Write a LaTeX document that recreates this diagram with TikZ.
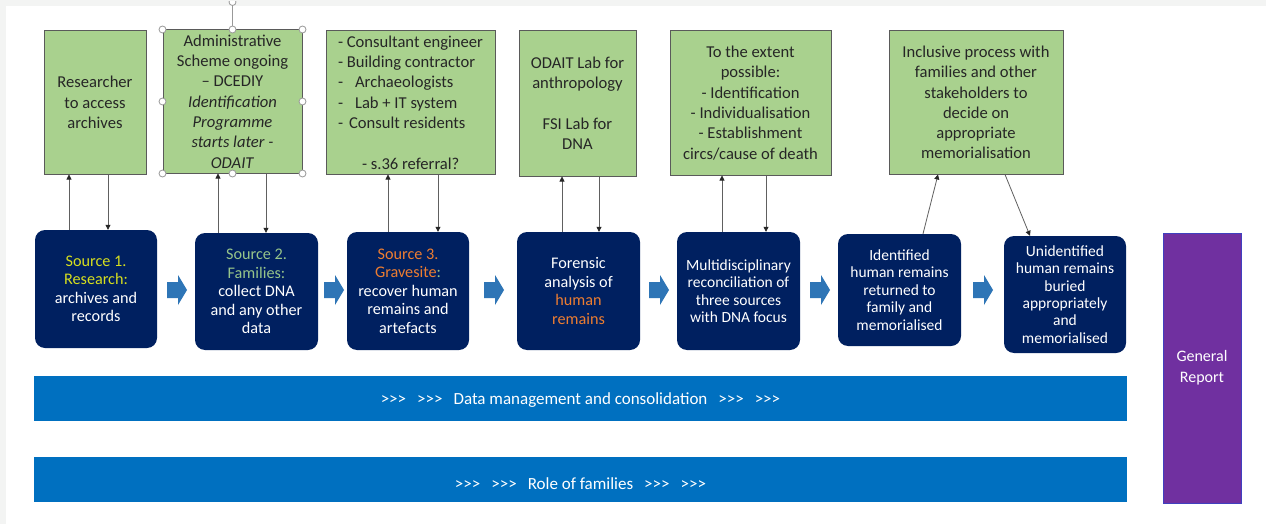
\documentclass[tikz,border=0pt]{standalone}
\usepackage{fontspec}
\setmainfont{Carlito}
\usetikzlibrary{arrows.meta}
\definecolor{gfill}{HTML}{A9D18E}
\definecolor{gdraw}{HTML}{5A5A5A}
\definecolor{navy}{HTML}{002060}
\definecolor{barblue}{HTML}{0070C0}
\definecolor{arrblue}{HTML}{2E75B6}
\definecolor{purp}{HTML}{7030A0}
\definecolor{ylw}{HTML}{D6DE1E}
\definecolor{lgrn}{HTML}{96C48A}
\definecolor{orng}{HTML}{ED7D31}
\definecolor{pagegray}{HTML}{F3F4F3}
\newcommand{\chev}{>{}>{}>}
\begin{document}
\begin{tikzpicture}[x=1pt,y=-1pt,
  greenbox/.style={draw=gdraw, line width=1pt, fill=gfill, inner sep=0pt, align=center,
    text=black!85, font=\fontsize{16.6}{20.3}\selectfont},
  bluebox/.style={fill=navy, rounded corners=10pt, text=white, align=center, inner sep=0pt,
    font=\fontsize{16.2}{18.5}\selectfont},
  smallblue/.style={bluebox, font=\fontsize{15.5}{17.4}\selectfont},
  bar/.style={fill=barblue, inner sep=0pt, minimum width=1093pt, minimum height=45pt},
  bartext/.style={text=white, inner sep=0pt, font=\fontsize{17}{20}\selectfont},
  conn/.style={draw=gray!75!black, line width=0.8pt, -{Triangle[length=5pt,width=5pt,color=black!85]}},
  handle/.style={draw=gray!80, fill=white, line width=0.8pt},
  blockarr/.pic={\fill[arrblue] (0,-8) -- (11,-8) -- (11,-15) -- (20,0) -- (11,15) -- (11,8) -- (0,8) -- cycle;}
]
\useasboundingbox (0,0) rectangle (1266,524);
\fill[pagegray] (0,0) rectangle (1266,524);
\fill[white] (6,6) rectangle (1266,524);

% green boxes
\node[greenbox, minimum width=102pt, minimum height=143pt] (g1) at (95,102.5) {Researcher\\to access\\archives};
\node[greenbox, minimum width=139pt, minimum height=143pt] (g2) at (232.5,101.5)
  {Administrative\\Scheme ongoing\\-- DCEDIY\\\textit{Identification}\\\textit{Programme}\\\textit{starts later -}\\\textit{ODAIT}};
\node[greenbox, minimum width=169pt, minimum height=143pt, align=left] (g3) at (410.5,102.5)
  {- Consultant engineer\\- Building contractor\\-\hspace{12pt}Archaeologists\\-\hspace{12pt}Lab + IT system\\-\hspace{6pt}Consult residents\\[20.3pt]\hspace{24pt}- s.36 referral?};
\node[greenbox, minimum width=117pt, minimum height=145pt] (g4) at (577.5,103.5)
  {ODAIT Lab for\\anthropology\\[20.3pt]FSI Lab for\\DNA};
\node[greenbox, minimum width=161pt, minimum height=144pt] (g5) at (750.5,103)
  {To the extent\\possible:\\- Identification\\- Individualisation\\- Establishment\\circs/cause of death};
\node[greenbox, minimum width=174pt, minimum height=143pt] (g6) at (976,102.5)
  {Inclusive process with\\families and other\\stakeholders to\\decide on\\appropriate\\memorialisation};

% selection handles on g2
\draw[gray!80, line width=0.8pt] (g2.north) -- (232.5,6);
\draw[handle] (232.5,2) circle (3.5);
\fill[pagegray] (200,0) rectangle (260,0.8);
\foreach \a in {north west,north,north east,east,south east,south,south west,west}
  \draw[handle] (g2.\a) circle (3.5);

% blue boxes
\node[bluebox, minimum width=122pt, minimum height=118pt] (b1) at (96,289)
  {{\color{ylw}Source 1.}\\{\color{ylw}Research:}\\archives and\\records};
\node[bluebox, minimum width=123pt, minimum height=117pt] (b2) at (256.5,291.5)
  {{\color{lgrn}Source 2.}\\{\color{lgrn}Families:}\\collect DNA\\and any other\\data};
\node[bluebox, minimum width=122pt, minimum height=118pt] (b3) at (408,291)
  {{\color{orng}Source 3.}\\{\color{orng}Gravesite}{\color{lgrn}:}\\recover human\\remains and\\artefacts};
\node[bluebox, minimum width=123pt, minimum height=118pt] (b4) at (578.5,291)
  {Forensic\\analysis of\\{\color{orng}human}\\{\color{orng}remains}};
\node[smallblue, minimum width=123pt, minimum height=118pt] (b5) at (738.5,291)
  {Multidisciplinary\\reconciliation of\\three sources\\with DNA focus};
\node[smallblue, minimum width=123pt, minimum height=112pt] (b6) at (899.5,290)
  {Identified\\human remains\\returned to\\family and\\memorialised};
\node[smallblue, minimum width=122pt, minimum height=117pt] (b7) at (1065,294.5)
  {Unidentified\\human remains\\buried\\appropriately\\and\\memorialised};

% block arrows
\pic at (167,290) {blockarr};
\pic at (324,290) {blockarr};
\pic at (484,290) {blockarr};
\pic at (649,290) {blockarr};
\pic at (810,290) {blockarr};
\pic at (973,290) {blockarr};

% connectors
\draw[conn] (b1.north -| 69,0) -- (g1.south -| 69,0);
\draw[conn] (g1.south -| 108,0) -- (b1.north -| 108,0);
\draw[conn] (b2.north -| 218,0) -- (g2.south -| 218,0);
\draw[conn] (g2.south -| 266,0) -- (b2.north -| 266,0);
\draw[conn] (b3.north -| 388,0) -- (g3.south -| 388,0);
\draw[conn] (g3.south -| 438,0) -- (b3.north -| 438,0);
\draw[conn] (b4.north -| 562,0) -- (g4.south -| 562,0);
\draw[conn] (g4.south -| 599,0) -- (b4.north -| 599,0);
\draw[conn] (b5.north -| 722,0) -- (g5.south -| 722,0);
\draw[conn] (g5.south -| 766,0) -- (b5.north -| 766,0);
\draw[conn] (b6.north -| 923,0) -- (g6.south -| 938,0);
\draw[conn] (g6.south -| 1005,0) -- (b7.north -| 1030,0);

% bars
\node[bar] (dm) at (580.5,398.5) {};
\node[bartext] (dmt) at ([yshift=-2pt]dm.center) {\chev\hspace{11pt}\chev\hspace{11pt}Data management and consolidation\hspace{11pt}\chev\hspace{11pt}\chev};
\node[bar] (rf) at (580.5,479.5) {};
\node[bartext] (rft) at ([yshift=-4pt]rf.center) {\chev\hspace{11pt}\chev\hspace{11pt}Role of families\hspace{11pt}\chev\hspace{11pt}\chev};

% general report
\node[fill=purp, draw=blue!50!gray, line width=0.8pt, minimum width=78pt, minimum height=270pt,
  text=white, align=center, inner sep=0pt, font=\fontsize{16}{21}\selectfont] (gr) at (1202,368) {General\\Report};
\end{tikzpicture}
\end{document}
